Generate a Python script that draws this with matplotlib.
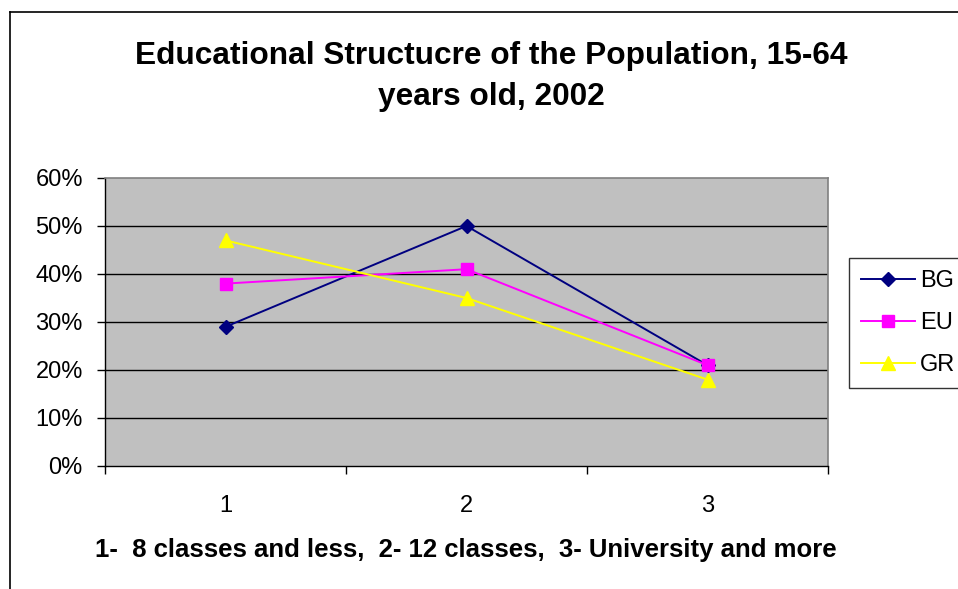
import matplotlib
matplotlib.use("Agg")
import matplotlib.pyplot as plt
from matplotlib.lines import Line2D
from matplotlib.ticker import FixedLocator, NullFormatter

plt.rcParams['font.family'] = ['Liberation Sans', 'DejaVu Sans']

# data
categories = [1, 2, 3]
bg = [29, 50, 21]
eu = [38, 41, 21]
gr = [47, 35, 18]
yticks = [0, 10, 20, 30, 40, 50, 60]

fig = plt.figure(figsize=(9.58, 5.89), dpi=100)
fig.patch.set_facecolor('white')

# outer chart frame (left and top edges visible)
fig.add_artist(Line2D([10/958, 10/958], [0, 1 - 12/589], color='black', lw=1.2))
fig.add_artist(Line2D([10/958, 1], [1 - 12/589, 1 - 12/589], color='black', lw=1.2))

ax = fig.add_axes([105/958, 1 - 466/589, 723/958, 288/589])
ax.set_facecolor('#C0C0C0')

ax.plot(categories, bg, color='#000080', marker='D', markersize=7.5, lw=1.4, label='BG')
ax.plot(categories, eu, color='#FF00FF', marker='s', markersize=8.5, lw=1.4, label='EU')
ax.plot(categories, gr, color='#FFFF00', marker='^', markersize=10, lw=1.4, label='GR')

ax.set_xlim(0.5, 3.5)
ax.set_ylim(0, 60)
ax.set_yticks(yticks)
ax.set_yticklabels([f'{v}%' for v in yticks], fontsize=17)
for v in yticks[1:-1]:
    ax.axhline(v, color='black', lw=1.0, zorder=1)

ax.xaxis.set_major_locator(FixedLocator([0.5, 1.5, 2.5, 3.5]))
ax.xaxis.set_major_formatter(NullFormatter())
ax.xaxis.set_minor_locator(FixedLocator(categories))
ax.set_xticklabels([str(c) for c in categories], minor=True, fontsize=17)
ax.tick_params(axis='x', which='minor', length=0, pad=21)
ax.tick_params(axis='x', which='major', length=6, direction='out', width=1)
ax.tick_params(axis='y', length=6, direction='out', width=1, pad=10)

for s in ['top', 'right']:
    ax.spines[s].set_color('#808080')
    ax.spines[s].set_linewidth(1.2)
for s in ['left', 'bottom']:
    ax.spines[s].set_color('black')
    ax.spines[s].set_linewidth(1.0)

fig.text(491/958, 1 - 76.5/589, 'Educational Structucre of the Population, 15-64\nyears old, 2002',
         ha='center', va='center', fontsize=22.8, fontweight='bold', linespacing=1.5)
fig.text(466/958, 1 - 550/589, '1-  8 classes and less,  2- 12 classes,  3- University and more',
         ha='center', va='center', fontsize=18.5, fontweight='bold')

leg = fig.legend(loc='upper left', bbox_to_anchor=(849/958, 1 - 258/589), fontsize=17,
                 frameon=True, fancybox=False, edgecolor='black', handlelength=2.3,
                 labelspacing=0.85, borderpad=0.5, handletextpad=0.22, borderaxespad=0)
leg.get_frame().set_linewidth(1.0)

fig.savefig('out.png', dpi=100)
